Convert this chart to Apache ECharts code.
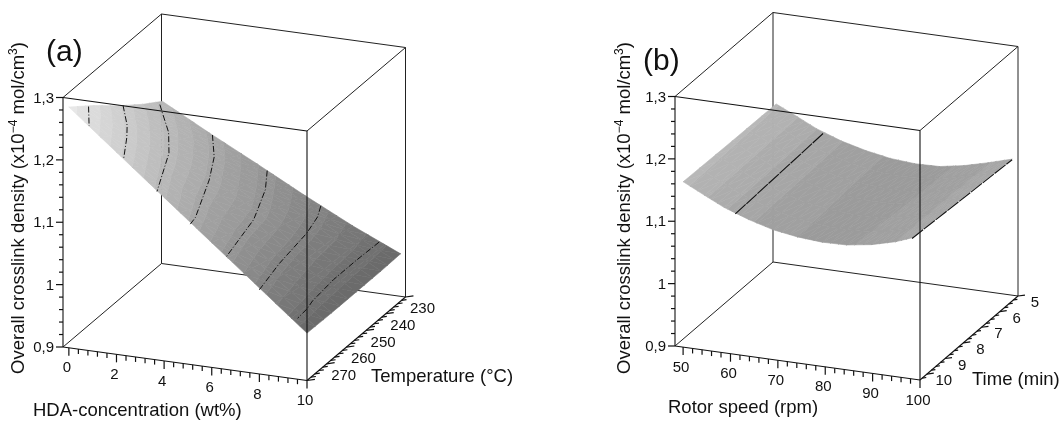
<!DOCTYPE html>
<html><head><meta charset="utf-8">
<style>html,body{margin:0;padding:0;background:#fff}#c{width:1061px;height:421px}</style>
<script src="https://cdn.jsdelivr.net/npm/echarts@6/dist/echarts.min.js"></script>
</head><body><div id="c"></div>
<script>
// ---------- data ----------
const densityTicks = [0.9, 1, 1.1, 1.2, 1.3];
const densityTickLabels = ['0,9', '1', '1,1', '1,2', '1,3'];
const hdaTicks = [0, 2, 4, 6, 8, 10];
const temperatureTicks = [270, 260, 250, 240, 230];
const rotorTicks = [50, 60, 70, 80, 90, 100];
const timeTicks = [10, 9, 8, 7, 6, 5];

// panel (a): surface
const hdaColumns = [0, 2, 4, 6, 8, 10];
const temperatureRows = [280, 267.5, 255, 242.5, 232.5];
const densityT280 = [1.286, 1.224, 1.162, 1.100, 1.038, 0.976];
const densityT267 = [1.255, 1.198, 1.138, 1.086, 1.027, 0.975];
const densityT255 = [1.221, 1.172, 1.123, 1.079, 1.020, 0.975];
const densityT242 = [1.190, 1.148, 1.104, 1.062, 1.017, 0.975];
const densityT232 = [1.168, 1.127, 1.088, 1.048, 1.010, 0.976];
// panel (a): contour lines, [HDA, temperature]
const contourLevelsA = [1.26, 1.215, 1.17, 1.125, 1.08, 1.035, 0.99];
const contourA1 = [[0, 270], [0.85, 280]];
const contourA2 = [[0, 252.5], [1, 262.5], [1.5, 268.7], [2.3, 280]];
const contourA3 = [[0.1, 235], [0.5, 238.7], [1.6, 248.7], [2.5, 259.4], [3.7, 280]];
const contourA4 = [[2.1, 232.5], [3.1, 243.7], [3.9, 255.9], [5, 276.2], [5.1, 280]];
const contourA5 = [[4.4, 232.5], [5.15, 242.5], [6, 258.7], [6.6, 280]];
const contourA6 = [[6.65, 232.5], [7, 238.4], [7.3, 247.5], [7.6, 265], [8, 280]];
const contourA7 = [[9.1, 232.5], [9.05, 243.7], [9.05, 255], [9.2, 267.5], [9.34, 272], [9.4, 277.5]];

// panel (b): surface
const timeRows = [10.37, 7.7, 5.27];
const rotorFront = [50, 54.5, 58.6, 63.8, 69, 74.1, 79.3, 84.5, 89.7, 94.8, 98.3];
const rotorMid   = [50, 54.5, 58.6, 63.8, 69, 74.1, 79.3, 84.5, 89.7, 94.8, 99];
const rotorBack  = [50, 54.5, 58.6, 63.8, 69, 74.1, 79.3, 84.5, 89.7, 94.8, 99.8];
const densityFront = [1.165, 1.148, 1.133, 1.119, 1.108, 1.102, 1.099, 1.100, 1.106, 1.116, 1.126];
const densityMid   = [1.163, 1.147, 1.132, 1.118, 1.107, 1.101, 1.098, 1.099, 1.105, 1.116, 1.126];
const densityBack  = [1.162, 1.146, 1.131, 1.117, 1.107, 1.100, 1.097, 1.098, 1.105, 1.115, 1.126];
const contourLevelsB = [1.125, 1.125];
const contourB1 = [[61, 10.37], [59.9, 5.27]];
const contourB2 = [[98.3, 10.37], [99.8, 5.27]];

// ---------- projection of the parallel-projected boxes ----------
const boxA = {o: [63, 347], ex: [244, 33.5], ey: [98.5, -83.5], ez: [0, -249.5], xd: [-0.246, 10], yd: [280, 230], zd: [0.9, 1.3]};
const boxB = {o: [675, 346], ex: [245, 34], ey: [98, -84], ez: [0, -249.5], xd: [48.29, 100], yd: [10.376, 5], zd: [0.9, 1.3]};
function project(b, x, y, z) {
  const u = (x - b.xd[0]) / (b.xd[1] - b.xd[0]);
  const v = (y - b.yd[0]) / (b.yd[1] - b.yd[0]);
  const w = (z - b.zd[0]) / (b.zd[1] - b.zd[0]);
  return [b.o[0] + u * b.ex[0] + v * b.ey[0] + w * b.ez[0],
          b.o[1] + u * b.ex[1] + v * b.ey[1] + w * b.ez[1]];
}
const FONT = '"Liberation Sans", Arial, sans-serif';
const bandStep = 0.0145;
function bandColor(k) {
  const zb = (k + 0.5) * bandStep;
  const g = Math.max(0, Math.min(255, Math.round(108 + (zb - 0.98) * 406)));
  return 'rgb(' + g + ',' + g + ',' + g + ')';
}
// clip a polygon (vertices [x,y,z]) to lo <= z <= hi
function clipZ(poly, level, keepAbove) {
  const out = [];
  for (let i = 0; i < poly.length; i++) {
    const a = poly[i], b = poly[(i + 1) % poly.length];
    const ina = keepAbove ? a[2] >= level : a[2] <= level;
    const inb = keepAbove ? b[2] >= level : b[2] <= level;
    if (ina) out.push(a);
    if (ina !== inb) {
      const t = (level - a[2]) / (b[2] - a[2]);
      out.push([a[0] + t * (b[0] - a[0]), a[1] + t * (b[1] - a[1]), level]);
    }
  }
  return out;
}

// surface: each item is a grid cell; it is shaded in bands of equal density
function surfaceSeries(box, xRows, yRows, zRows, nU, nV) {
  const cells = [];
  for (let r = 0; r + 1 < yRows.length; r++)
    for (let c = 0; c + 1 < zRows[r].length; c++)
      cells.push([xRows[r][c], yRows[r], zRows[r][c], xRows[r][c + 1], yRows[r], zRows[r][c + 1],
                  xRows[r + 1][c], yRows[r + 1], zRows[r + 1][c], xRows[r + 1][c + 1], yRows[r + 1], zRows[r + 1][c + 1]]);
  return {
    type: 'custom', coordinateSystem: 'cartesian2d', silent: true, animation: false, clip: false,
    data: cells,
    renderItem(params, api) {
      const q = []; for (let i = 0; i < 12; i++) q.push(api.value(i));
      const at = (a, b) => [0, 1, 2].map(k =>
        (1 - a) * (1 - b) * q[k] + a * (1 - b) * q[3 + k] + (1 - a) * b * q[6 + k] + a * b * q[9 + k]);
      const children = [];
      for (let i = 0; i < nU; i++) for (let j = 0; j < nV; j++) {
        const A = at(i / nU, j / nV), B = at((i + 1) / nU, j / nV),
              C = at((i + 1) / nU, (j + 1) / nV), D = at(i / nU, (j + 1) / nV);
        [[A, B, C], [A, C, D]].forEach(tri => {
          const zs = tri.map(p => p[2]);
          const k0 = Math.floor(Math.min(...zs) / bandStep), k1 = Math.floor(Math.max(...zs) / bandStep);
          for (let k = k0; k <= k1; k++) {
            let poly = clipZ(tri, k * bandStep, true);
            if (poly.length) poly = clipZ(poly, (k + 1) * bandStep, false);
            if (poly.length < 3) continue;
            const col = bandColor(k);
            children.push({type: 'polygon',
              shape: {points: poly.map(p => api.coord(project(box, p[0], p[1], p[2])))},
              style: {fill: col, stroke: col, lineWidth: 0.6}});
          }
        });
      }
      return {type: 'group', children};
    }
  };
}

// straight segments in data space
function segmentSeries(box, segs, color, width) {
  return {
    type: 'custom', coordinateSystem: 'cartesian2d', silent: true, animation: false, clip: false,
    data: segs,
    renderItem(params, api) {
      const a = api.coord(project(box, api.value(0), api.value(1), api.value(2)));
      const b = api.coord(project(box, api.value(3), api.value(4), api.value(5)));
      return {type: 'line', shape: {x1: a[0], y1: a[1], x2: b[0], y2: b[1]}, style: {stroke: color, lineWidth: width}};
    }
  };
}
function boxEdges(b, part) {
  const [x0, x1] = b.xd, [y0, y1] = b.yd, [z0, z1] = b.zd;
  return part === 'back' ? [
    [x0, y1, z0, x0, y1, z1], [x1, y1, z0, x1, y1, z1],
    [x0, y0, z1, x0, y1, z1], [x0, y1, z1, x1, y1, z1], [x1, y0, z1, x1, y1, z1],
    [x0, y0, z0, x0, y1, z0], [x0, y1, z0, x1, y1, z0]
  ] : [
    [x0, y0, z1, x1, y0, z1], [x0, y0, z0, x0, y0, z1], [x1, y0, z0, x1, y0, z1],
    [x0, y0, z0, x1, y0, z0], [x1, y0, z0, x1, y1, z0]
  ];
}
// contour polylines at a fixed density
function contourSeries(box, lines, levels, dash, width) {
  return {
    type: 'custom', coordinateSystem: 'cartesian2d', silent: true, animation: false, clip: false,
    data: lines.map((l, i) => [i]),
    renderItem(params, api) {
      const i = api.value(0);
      const pts = lines[i].map(p => api.coord(project(box, p[0], p[1], levels[i])));
      return {type: 'polyline', shape: {points: pts}, style: {stroke: '#111', fill: null, lineWidth: width, lineDash: dash}};
    }
  };
}
// tick marks: pixel length along the given direction
function tickSeries(box, ticks, dir) {
  return {
    type: 'custom', coordinateSystem: 'cartesian2d', silent: true, animation: false, clip: false,
    data: ticks,
    renderItem(params, api) {
      const p = project(box, api.value(0), api.value(1), api.value(2));
      const len = api.value(3);
      const a = api.coord(p), b = api.coord([p[0] + dir[0] * len, p[1] + dir[1] * len]);
      return {type: 'line', shape: {x1: a[0], y1: a[1], x2: b[0], y2: b[1]}, style: {stroke: '#111', lineWidth: 1.2}};
    }
  };
}
function labelSeries(box, items, dx, dy, align) {
  return {
    type: 'custom', coordinateSystem: 'cartesian2d', silent: true, animation: false, clip: false,
    data: items.map((t, i) => [i]),
    renderItem(params, api) {
      const it = items[api.value(0)];
      const c = api.coord(project(box, it[0], it[1], it[2]));
      return {type: 'text', x: c[0] + dx, y: c[1] + dy,
        style: {text: it[3], fontSize: 15, fontFamily: FONT, fill: '#111', align, verticalAlign: 'middle'}};
    }
  };
}
function panelSeries(box, xT, xLen, yT, yLen, xStep, yStep, xMinorPerMajor, yMinorPerMajor, xLabels, yLabels, yLabelDy) {
  const [x0, x1] = box.xd, [y0, y1] = box.yd, [z0, z1] = box.zd;
  const zt = [], xt = [], yt = [];
  for (let i = 0; i <= 20; i++) zt.push([x0, y0, z0 + i * 0.02, i % 5 === 0 ? 7 : 4]);
  const nx = Math.round((x1 - xT[0]) / xStep);
  for (let i = 0; i <= nx; i++) xt.push([xT[0] + i * xStep, y0, z0, i % xMinorPerMajor === 0 ? xLen + 3 : xLen]);
  const ny = Math.floor(Math.abs(y0 - y1) / yStep + 1e-6);
  for (let i = 0; i <= ny; i++) {
    const T = y1 + (y0 > y1 ? 1 : -1) * i * yStep;
    yt.push([x1, T, z0, i % yMinorPerMajor === 0 ? yLen + 3 : yLen]);
  }
  const exn = Math.hypot(box.ex[0], box.ex[1]);
  return [
    tickSeries(box, zt, [-1, 0]),
    tickSeries(box, xt, [0, 1]),
    tickSeries(box, yt, [box.ex[0] / exn, -Math.abs(box.ex[1]) / exn]),
    labelSeries(box, densityTicks.map((z, i) => [x0, y0, z, densityTickLabels[i]]), -9, 1, 'right'),
    labelSeries(box, xLabels.map(x => [x, y0, z0, String(x)]), -2, 20.5, 'center'),
    labelSeries(box, yLabels.map(T => [x1, T, z0, String(T)]), 17, yLabelDy, 'center')
  ];
}

function yTitle(x, y) {
  return {type: 'text', x, y, rotation: Math.PI / 2, silent: true, style: {
    text: '{n|Overall crosslink density (x10}{s|\u22124}{n| mol/cm}{s|3}{n|)}',
    fontFamily: FONT, align: 'center', verticalAlign: 'middle', fill: '#111',
    rich: {n: {fontSize: 18.5, fontFamily: FONT, fill: '#111', lineHeight: 22}, s: {fontSize: 12, fontFamily: FONT, fill: '#111', verticalAlign: 'top', lineHeight: 22}}
  }};
}
function title(text, x, y, size) {
  return {type: 'text', x, y, silent: true, style: {text, fontSize: size, fontFamily: FONT, fill: '#111', align: 'left', verticalAlign: 'middle'}};
}

const chart = echarts.init(document.getElementById('c'), null, {renderer: 'canvas', width: 1061, height: 421});
chart.setOption({
  animation: false,
  backgroundColor: '#fff',
  grid: {left: 0, right: 0, top: 0, bottom: 0},
  xAxis: {type: 'value', min: 0, max: 1061, show: false},
  yAxis: {type: 'value', min: 0, max: 421, inverse: true, show: false},
  graphic: [
    title('(a)', 46, 53, 30), title('(b)', 643, 62, 30),
    yTitle(19, 208), yTitle(625, 208),
    title('HDA-concentration (wt%)', 33, 411, 18.5), title('Temperature (\u00b0C)', 371, 377, 18.5),
    title('Rotor speed (rpm)', 668, 408, 18.5), title('Time (min)', 972, 380, 18.5)
  ],
  series: [
    segmentSeries(boxA, boxEdges(boxA, 'back'), '#222', 1),
    surfaceSeries(boxA, temperatureRows.map(() => hdaColumns), temperatureRows,
      [densityT280, densityT267, densityT255, densityT242, densityT232], 3, 3),
    contourSeries(boxA, [contourA1, contourA2, contourA3, contourA4, contourA5, contourA6, contourA7], contourLevelsA, [6, 2, 1, 2], 1),
    segmentSeries(boxA, boxEdges(boxA, 'front'), '#111', 1.1),
    ...panelSeries(boxA, [0], 5, [230], 5, 0.4, 2, 5, 5, hdaTicks, temperatureTicks, 12),

    segmentSeries(boxB, boxEdges(boxB, 'back'), '#222', 1),
    surfaceSeries(boxB, [rotorFront, rotorMid, rotorBack], timeRows,
      [densityFront, densityMid, densityBack], 3, 3),
    contourSeries(boxB, [contourB1, contourB2], contourLevelsB, [14, 1], 1.1),
    segmentSeries(boxB, boxEdges(boxB, 'front'), '#111', 1.1),
    ...panelSeries(boxB, [50], 5, [5], 4, 2, 0.25, 5, 4, rotorTicks, timeTicks, 7)
  ]
});
</script></body></html>
